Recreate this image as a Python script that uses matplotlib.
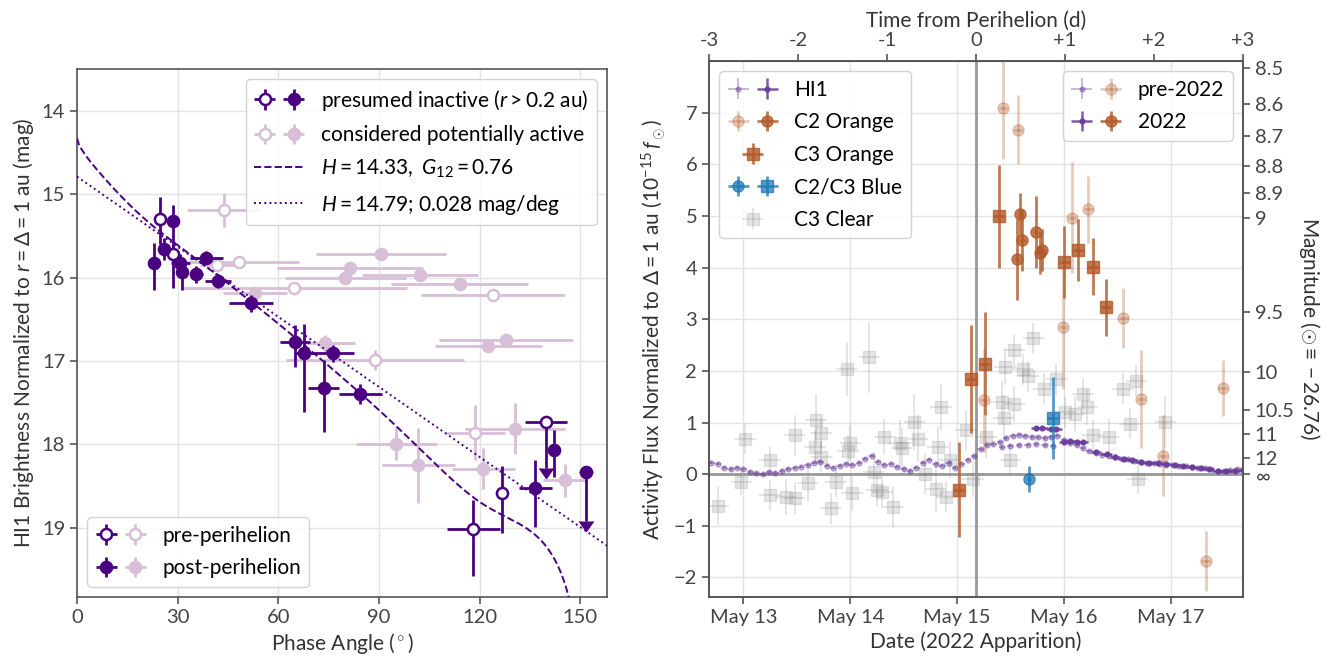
import numpy as np
import matplotlib
matplotlib.use('Agg')
import matplotlib.pyplot as plt
from matplotlib.legend_handler import HandlerTuple

plt.rcParams['font.family'] = ['Lato', 'DejaVu Sans']
plt.rcParams['mathtext.fontset'] = 'custom'
plt.rcParams['mathtext.rm'] = 'Lato'
plt.rcParams['mathtext.it'] = 'Lato:italic'
plt.rcParams['mathtext.bf'] = 'Lato:bold'
plt.rcParams['font.size'] = 15

DARK = '#4b0082'
LIGHT = '#d8bfd8'
HI1C = '#6a3d9a'
BROWN = '#b15928'
BLUE = '#1f78b4'
TXT = '#444444'
SPINE = '#555555'

# ---------------- left panel data (phase angle deg, mag) ----------------
# presumed inactive, pre-perihelion (open dark)
ip_phase = [24.8, 28.7, 126.8, 118.2]
ip_mag = [15.30, 15.72, 18.58, 19.02]
ip_xerr = [0.8, 0.8, 1.5, 8.0]
ip_lo = [0.27, 0.12, 0.32, 0.35]
ip_hi = [0.30, 0.12, 0.48, 0.56]

# presumed inactive, post-perihelion (filled dark)
iq_phase = [23.0, 28.5, 25.8, 30.8, 31.3, 38.5, 35.6, 42.0, 51.9, 65.0, 67.8, 76.4, 73.5, 84.5, 142.3, 136.6]
iq_mag = [15.83, 15.32, 15.66, 15.82, 15.93, 15.76, 15.96, 16.04, 16.31, 16.77, 16.91, 16.91, 17.33, 17.40, 18.07, 18.52]
iq_xerr = [0.5, 0.8, 0.8, 2.8, 0.8, 4.9, 2.0, 3.8, 6.5, 4.5, 2.5, 6.2, 4.5, 6.5, 0.0, 4.9]
iq_lo = [0.25, 0.19, 0.13, 0.10, 0.15, 0.08, 0.10, 0.08, 0.10, 0.20, 0.35, 0.10, 0.34, 0.12, 0.24, 0.33]
iq_hi = [0.32, 0.80, 0.13, 0.10, 0.22, 0.08, 0.10, 0.08, 0.10, 0.30, 0.70, 0.10, 0.52, 0.12, 0.32, 0.47]

# upper limits (fainter than): open pre-perihelion and filled post-perihelion
lim_pre_phase, lim_pre_mag, lim_pre_xerr, lim_pre_len = [139.9], [17.73], [6.3], [0.55]
lim_post_phase, lim_post_mag, lim_post_len = [151.8], [18.33], [0.59]

# considered potentially active, pre-perihelion (open light)
ap_phase = [43.7, 48.3, 41.8, 64.7, 88.8, 118.7, 124.1]
ap_mag = [15.19, 15.81, 15.85, 16.13, 16.99, 17.86, 16.21]
ap_xerr = [10.8, 18.0, 5.0, 33.7, 26.5, 9.0, 21.5]
ap_yerr = [0.20, 0.05, 0.05, 0.05, 0.12, 0.33, 0.05]

# considered potentially active, post-perihelion (filled light)
aq_phase = [90.6, 81.4, 80.0, 102.2, 114.1, 53.0, 127.8, 122.6, 74.0, 95.2, 101.7, 130.6, 121.1, 145.4]
aq_mag = [15.72, 15.89, 16.01, 15.97, 16.08, 16.19, 16.75, 16.82, 16.79, 17.99, 18.25, 17.81, 18.29, 18.43]
aq_xerr = [19.3, 21.9, 18.1, 17.3, 20.4, 9.5, 20.0, 16.0, 9.0, 12.1, 10.9, 15.0, 9.4, 6.6]
aq_yerr = [0.05, 0.05, 0.05, 0.05, 0.05, 0.08, 0.05, 0.05, 0.10, 0.20, 0.45, 0.31, 0.25, 0.20]

# phase function fits
hg12_H, hg12_G12 = 14.33, 0.76
lin_H, lin_beta = 14.79, 0.028

# ---------------- right panel data (day of May 2022, flux 1e-15 fsun) ----------------
perihelion = 15.1775
time_scale = 1.2
mag_sun = -26.76
mag_ticks = [8.5, 8.6, 8.7, 8.8, 8.9, 9, 9.5, 10, 10.5, 11, 12]

c3c_day = [12.765, 13.015, 12.98, 13.25, 13.25, 13.40, 13.48, 13.48, 13.60, 13.68, 13.73, 13.67, 13.73,
           13.816, 13.866, 13.966, 14.00, 13.98, 14.016, 14.18, 14.22, 14.25, 14.30, 14.32, 14.40, 14.466,
           14.48, 14.60, 14.63, 14.70, 14.80, 14.82, 14.85, 14.90, 14.93, 15.085, 15.15, 15.27, 15.418,
           15.435, 15.45, 15.535, 15.50, 15.535, 15.615, 15.665, 15.715, 15.81, 15.93, 16.01, 16.10,
           16.18, 16.22, 16.27, 16.42, 16.555, 16.62, 16.68, 16.69, 16.95]
c3c_flux = [-0.62, 0.69, -0.15, 0.27, -0.41, -0.44, -0.47, 0.75, -0.18, 1.05, 0.79, 0.53, 0.34,
            -0.66, -0.15, 2.03, 0.60, 0.45, -0.37, 2.26, 0.04, -0.31, -0.34, 0.72, -0.63, 0.60,
            0.50, 1.01, 0.69, 0.01, -0.28, 0.53, 1.30, -0.44, 0.27, 0.85, -0.09, 0.72, 1.40,
            1.08, 2.07, 2.40, 0.27, 1.36, 2.03, 1.90, 2.63, 1.65, 1.84, 1.20, 1.17,
            1.56, 1.30, 0.75, 0.72, 1.65, 0.98, 1.81, -0.09, 1.01]
c3c_err = [0.37, 0.30, 0.25, 0.25, 0.30, 0.35, 0.30, 0.40, 0.35, 0.50, 0.30, 0.30, 0.30,
           0.30, 0.30, 0.52, 0.35, 0.30, 0.35, 0.68, 0.40, 0.30, 0.30, 0.35, 0.40, 0.45,
           0.40, 0.55, 0.45, 0.40, 0.45, 0.40, 0.45, 0.30, 0.35, 0.40, 0.35, 0.40, 0.40,
           0.45, 0.35, 0.30, 0.30, 0.35, 0.30, 0.30, 0.30, 0.30, 0.30, 0.30, 0.35,
           0.30, 0.35, 0.30, 0.35, 0.30, 0.30, 0.30, 0.30, 0.50]

hi1_pre_day = [12.70, 12.76, 12.82, 12.88, 12.94, 13.00, 13.06, 13.12, 13.18, 13.24, 13.30, 13.36, 13.42,
               13.48, 13.54, 13.60, 13.66, 13.72, 13.78, 13.84, 13.90, 13.96, 14.02, 14.08, 14.14, 14.20,
               14.26, 14.32, 14.38, 14.44, 14.50, 14.56, 14.62, 14.68, 14.74, 14.80, 14.86, 14.92, 14.98,
               15.04, 15.10, 15.16, 15.22, 15.28, 15.34, 15.40, 15.46, 15.52, 15.58, 15.64, 15.70, 15.76,
               15.82, 15.88, 15.94, 16.00, 16.06, 16.12, 16.18, 16.24, 16.30, 16.36, 16.42, 16.48, 16.54,
               16.60, 16.66, 16.72, 16.78, 16.84, 16.90, 16.96, 17.02, 17.08, 17.14, 17.20, 17.26, 17.32,
               17.38, 17.44, 17.50, 17.56, 17.62, 17.68,
               15.42, 15.50, 15.58, 15.66, 15.74, 15.82, 15.90]
hi1_pre_flux = [0.22, 0.20, 0.12, 0.10, 0.12, 0.10, 0.05, 0.02, 0.00, 0.04, 0.03, 0.06, 0.10,
                0.12, 0.14, 0.18, 0.22, 0.24, 0.16, 0.12, 0.16, 0.20, 0.18, 0.22, 0.30, 0.36,
                0.24, 0.18, 0.20, 0.14, 0.10, 0.06, 0.12, 0.22, 0.28, 0.20, 0.16, 0.22, 0.12,
                0.20, 0.28, 0.35, 0.48, 0.56, 0.58, 0.62, 0.70, 0.74, 0.76, 0.74, 0.72, 0.71,
                0.70, 0.72, 0.74, 0.66, 0.60, 0.56, 0.50, 0.44, 0.40, 0.38, 0.36, 0.33, 0.30,
                0.29, 0.26, 0.24, 0.22, 0.21, 0.20, 0.18, 0.17, 0.16, 0.15, 0.13, 0.12, 0.11,
                0.09, 0.07, 0.06, 0.08, 0.09, 0.10,
                0.52, 0.55, 0.56, 0.57, 0.58, 0.56, 0.55]

hi1_22_day = [15.74, 15.80, 15.88, 15.93, 16.00, 16.06, 16.12, 16.18, 16.30, 16.40, 16.48, 16.56,
              16.64, 16.72, 16.80, 16.88, 16.96, 17.04, 17.12, 17.20, 17.28, 17.36, 17.44, 17.52, 17.60, 17.68]
hi1_22_flux = [0.89, 0.90, 0.88, 0.87, 0.62, 0.64, 0.63, 0.62, 0.43, 0.39, 0.33, 0.30,
               0.27, 0.24, 0.22, 0.21, 0.19, 0.17, 0.15, 0.14, 0.12, 0.10, 0.07, 0.06, 0.07, 0.08]

c2o_pre_day = [15.429, 15.569, 16.076, 16.230, 16.557, 15.993, 15.252, 16.723, 16.927, 17.488, 17.328]
c2o_pre_flux = [7.10, 6.67, 4.97, 5.13, 3.03, 2.84, 1.43, 1.45, 0.36, 1.67, -1.69]
c2o_pre_err = [1.00, 0.67, 1.08, 0.65, 0.58, 1.20, 1.00, 0.95, 0.78, 0.54, 0.58]

c2o_22_day = [15.593, 15.612, 15.559, 15.736, 15.792, 15.780]
c2o_22_flux = [5.04, 4.53, 4.16, 4.69, 4.34, 4.28]
c2o_22_err = [0.40, 0.60, 0.78, 0.70, 0.40, 0.40]

c3o_day = [15.389, 16.005, 16.136, 16.270, 16.396, 15.135, 15.258, 15.015]
c3o_flux = [4.99, 4.11, 4.35, 4.02, 3.23, 1.84, 2.14, -0.30]
c3o_err = [1.00, 0.70, 0.60, 0.55, 0.55, 1.05, 1.00, 0.92]

blue_c2_day, blue_c2_flux, blue_c2_err = [15.675], [-0.10], [0.25]
blue_c3_day, blue_c3_flux, blue_c3_err = [15.896], [1.09], [0.80]


# ---------------- helpers ----------------
def clamped_spline(xn, yn, d0, d1, x):
    xn = np.asarray(xn, float)
    yn = np.asarray(yn, float)
    n = len(xn)
    h = np.diff(xn)
    A = np.zeros((n, n))
    b = np.zeros(n)
    A[0, 0], A[0, 1] = 2 * h[0], h[0]
    b[0] = 6 * ((yn[1] - yn[0]) / h[0] - d0)
    A[-1, -2], A[-1, -1] = h[-1], 2 * h[-1]
    b[-1] = 6 * (d1 - (yn[-1] - yn[-2]) / h[-1])
    for i in range(1, n - 1):
        A[i, i - 1], A[i, i], A[i, i + 1] = h[i - 1], 2 * (h[i - 1] + h[i]), h[i]
        b[i] = 6 * ((yn[i + 1] - yn[i]) / h[i] - (yn[i] - yn[i - 1]) / h[i - 1])
    M = np.linalg.solve(A, b)
    i = np.clip(np.searchsorted(xn, x) - 1, 0, n - 2)
    hi, xl, xr = h[i], xn[i], xn[i + 1]
    return ((M[i] * (xr - x) ** 3 + M[i + 1] * (x - xl) ** 3) / (6 * hi)
            + (yn[i] / hi - M[i] * hi / 6) * (xr - x) + (yn[i + 1] / hi - M[i + 1] * hi / 6) * (x - xl))


def hg12_mag(phase_deg, H, G12):
    a = np.radians(phase_deg)
    n12 = np.radians([7.5, 30, 60, 90, 120, 150])
    p1 = clamped_spline(n12, [7.5e-1, 3.3486016e-1, 1.3410560e-1, 5.1104756e-2, 2.1465687e-2, 3.6396989e-3],
                        -1.9098593, -9.1328612e-2, a)
    p2 = clamped_spline(n12, [9.25e-1, 6.2884169e-1, 3.1755495e-1, 1.2716367e-1, 2.2373903e-2, 1.6505689e-4],
                        -5.7295780e-1, -8.6573138e-8, a)
    p1 = np.where(a < n12[0], 1 - 6 * a / np.pi, p1)
    p2 = np.where(a < n12[0], 1 - 9 * a / (5 * np.pi), p2)
    n3 = np.radians([0, 0.3, 1, 2, 4, 8, 12, 20, 30])
    p3 = clamped_spline(n3, [1, 8.3381185e-1, 5.7735424e-1, 4.2144772e-1, 2.3174230e-1, 1.0348178e-1,
                             6.1733473e-2, 1.6107006e-2, 0], -1.0630097e-1, 0, a)
    p3 = np.where(a > n3[-1], 0, p3)
    if G12 < 0.2:
        G1, G2 = 0.7527 * G12 + 0.06164, -0.9612 * G12 + 0.6270
    else:
        G1, G2 = 0.9529 * G12 + 0.02162, -0.6125 * G12 + 0.5572
    return H - 2.5 * np.log10(G1 * p1 + G2 * p2 + (1 - G1 - G2) * p3)


def style_axis(ax):
    for s in ax.spines.values():
        s.set_color(SPINE)
        s.set_linewidth(1.2)
    ax.tick_params(direction='out', length=5, width=1.2, color=SPINE, labelcolor=TXT, labelsize=14.5)
    ax.grid(True, color='#e3e3e3', lw=1)
    ax.set_axisbelow(True)


fig = plt.figure(figsize=(13.27, 6.63), dpi=100)

# ================= left panel =================
ax = fig.add_axes([0.0580, 0.0995, 0.3994, 0.7964])
style_axis(ax)
ax.set_xlim(0, 158)
ax.set_ylim(19.83, 13.5)
ax.set_xticks([0, 30, 60, 90, 120, 150])
ax.set_yticks([14, 15, 16, 17, 18, 19])

ebk = dict(fmt='o', ms=8, mew=1.8, elinewidth=2, capsize=0)
h_ap = ax.errorbar(ap_phase, ap_mag, xerr=ap_xerr, yerr=ap_yerr, color=LIGHT, mfc='white', zorder=2, **ebk)
h_aq = ax.errorbar(aq_phase, aq_mag, xerr=aq_xerr, yerr=aq_yerr, color=LIGHT, zorder=2, **ebk)

phase_curve = np.linspace(0, 150, 600)
l_hg, = ax.plot(phase_curve, hg12_mag(phase_curve, hg12_H, hg12_G12), '--', color=DARK, lw=1.4, zorder=3)
phase_lin = np.linspace(0, 158, 50)
l_lin, = ax.plot(phase_lin, lin_H + lin_beta * phase_lin, ':', color=DARK, lw=1.4, zorder=3)

h_ip = ax.errorbar(ip_phase, ip_mag, xerr=ip_xerr, yerr=[ip_lo, ip_hi], color=DARK, mfc='white', zorder=4, **ebk)
h_iq = ax.errorbar(iq_phase, iq_mag, xerr=iq_xerr, yerr=[iq_lo, iq_hi], color=DARK, zorder=4, **ebk)
ax.errorbar(lim_pre_phase, lim_pre_mag, xerr=lim_pre_xerr, color=DARK, mfc='white', zorder=4, **ebk)
ax.errorbar(lim_pre_phase, lim_pre_mag, yerr=lim_pre_len, lolims=True, fmt='none', color=DARK,
            elinewidth=2, capsize=5, zorder=4)
ax.errorbar(lim_post_phase, lim_post_mag, color=DARK, zorder=4, **ebk)
ax.errorbar(lim_post_phase, lim_post_mag, yerr=lim_post_len, lolims=True, fmt='none', color=DARK,
            elinewidth=2, capsize=5, zorder=4)

ax.set_xlabel('Phase Angle ($^\\circ$)', color='#333333', fontsize=15)
ax.set_ylabel('HI1 Brightness Normalized to $r = \\Delta = 1$ au (mag)', color='#333333', fontsize=15)

leg_kw = dict(handler_map={tuple: HandlerTuple(ndivide=None, pad=0.4)}, handlelength=2.4,
              labelspacing=0.6, fontsize=15, framealpha=0.85, edgecolor='#cccccc', fancybox=True)
leg1 = ax.legend([(h_ip, h_iq), (h_ap, h_aq), l_hg, l_lin],
                 ['presumed inactive ($r > 0.2$ au)', 'considered potentially active',
                  '$H = 14.33,\\ G_{12} = 0.76$', '$H = 14.79$; 0.028 mag/deg'],
                 loc='upper right', **leg_kw)
ax.add_artist(leg1)
ax.legend([(h_ip, h_ap), (h_iq, h_aq)], ['pre-perihelion', 'post-perihelion'], loc='lower left', **leg_kw)

# ================= right panel =================
bx = fig.add_axes([0.5343, 0.0995, 0.4024, 0.8084])
style_axis(bx)
bx.set_xlim(perihelion - 3 / time_scale, perihelion + 3 / time_scale)
bx.set_ylim(-2.38, 8.0)
bx.set_xticks([13, 14, 15, 16, 17])
bx.set_xticklabels(['May 13', 'May 14', 'May 15', 'May 16', 'May 17'])
bx.set_yticks(range(-2, 8))
bx.axhline(0, color='#999999', lw=2, zorder=1)
bx.axvline(perihelion, color='#999999', lw=2, zorder=1)

h_c3c = bx.errorbar(c3c_day, c3c_flux, xerr=0.1, yerr=c3c_err, fmt='s', ms=8, color='gray', alpha=0.2,
                    elinewidth=1.5, capsize=0, zorder=2)
h_hi1p = bx.errorbar(hi1_pre_day, hi1_pre_flux, xerr=0.03, yerr=0.03, fmt='o', ms=3.5, color=HI1C,
                     alpha=0.4, elinewidth=1.3, capsize=0, zorder=3)
h_hi1 = bx.errorbar(hi1_22_day, hi1_22_flux, xerr=0.05, yerr=0.03, fmt='o', ms=3.5, color=HI1C,
                    alpha=0.85, elinewidth=1.8, capsize=0, zorder=4)
h_c2p = bx.errorbar(c2o_pre_day, c2o_pre_flux, xerr=0.04, yerr=c2o_pre_err, fmt='o', ms=8, color=BROWN,
                    alpha=0.3, elinewidth=2, capsize=0, zorder=3)
h_c2 = bx.errorbar(c2o_22_day, c2o_22_flux, xerr=0.02, yerr=c2o_22_err, fmt='o', ms=8, color=BROWN,
                   alpha=0.8, elinewidth=2, capsize=0, zorder=5)
h_c3 = bx.errorbar(c3o_day, c3o_flux, xerr=0.05, yerr=c3o_err, fmt='s', ms=9, color=BROWN,
                   alpha=0.8, elinewidth=2, capsize=0, zorder=5)
h_b2 = bx.errorbar(blue_c2_day, blue_c2_flux, xerr=0.02, yerr=blue_c2_err, fmt='o', ms=8, color=BLUE,
                   alpha=0.75, elinewidth=2, capsize=0, zorder=5)
h_b3 = bx.errorbar(blue_c3_day, blue_c3_flux, xerr=0.05, yerr=blue_c3_err, fmt='s', ms=9, color=BLUE,
                   alpha=0.75, elinewidth=2, capsize=0, zorder=5)

bx.set_xlabel('Date (2022 Apparition)', color='#333333', fontsize=15)
bx.set_ylabel('Activity Flux Normalized to $\\Delta = 1$ au ($10^{-15}\\,f_\\odot$)', color='#333333', fontsize=15)

legA = bx.legend([(h_hi1p, h_hi1), (h_c2p, h_c2), (h_c3,), (h_b2, h_b3), (h_c3c,)],
                 ['HI1', 'C2 Orange', 'C3 Orange', 'C2/C3 Blue', 'C3 Clear'], loc='upper left', **leg_kw)
bx.add_artist(legA)
bx.legend([(h_hi1p, h_c2p), (h_hi1, h_c2)], ['pre-2022', '2022'], loc='upper right', **leg_kw)

# top axis: time from perihelion
top = bx.secondary_xaxis('top', functions=(lambda d: (d - perihelion) * time_scale,
                                           lambda t: t / time_scale + perihelion))
top.set_xticks([-3, -2, -1, 0, 1, 2, 3])
top.set_xticklabels(['-3', '-2', '-1', '0', '+1', '+2', '+3'])
top.tick_params(direction='out', length=5, width=1.2, color=SPINE, labelcolor=TXT, labelsize=14.5)
top.spines['top'].set_color(SPINE)
top.set_xlabel('Time from Perihelion (d)', color='#333333', fontsize=15)

# right axis: magnitude
rx = bx.twinx()
rx.set_ylim(bx.get_ylim())
zero_point = mag_sun + 2.5 * 15
rx.set_yticks([0] + [10 ** ((zero_point - m) / 2.5) for m in mag_ticks])
rx.set_yticklabels(['$\\infty$'] + ['%g' % m for m in mag_ticks])
rx.tick_params(direction='out', length=5, width=1.2, color=SPINE, labelcolor=TXT, labelsize=14.5)
for s in rx.spines.values():
    s.set_color(SPINE)
    s.set_linewidth(1.2)
rx.set_ylabel('Magnitude ($\\odot \\equiv -26.76$)', rotation=270, labelpad=20, color='#333333', fontsize=15)

fig.savefig('out.png', dpi=100, facecolor='white')
